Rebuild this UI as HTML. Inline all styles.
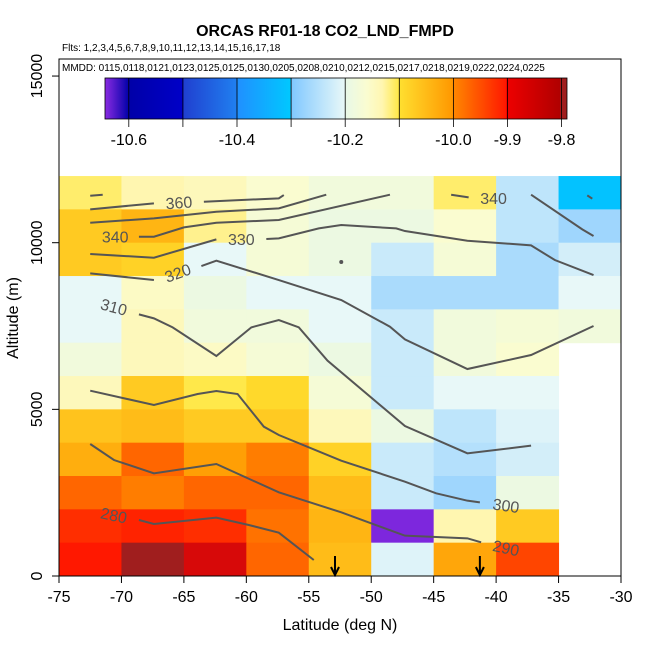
<!DOCTYPE html>
<html><head><meta charset="utf-8"><style>
body{margin:0;background:#fff;}
svg{display:block;font-family:"Liberation Sans",sans-serif;}
</style></head><body>
<svg id="chart" width="650" height="650">
<defs>
<linearGradient id="cbg" x1="0" x2="1" y1="0" y2="0">
<stop offset="0" stop-color="#8a2be2"/><stop offset="0.052" stop-color="#0000a8"/>
<stop offset="0.169" stop-color="#0000c8"/><stop offset="0.17" stop-color="#2040d0"/>
<stop offset="0.286" stop-color="#2080f0"/><stop offset="0.287" stop-color="#2090ff"/>
<stop offset="0.402" stop-color="#00c8ff"/><stop offset="0.403" stop-color="#80c8ff"/>
<stop offset="0.519" stop-color="#e8f8f8"/><stop offset="0.52" stop-color="#e8f8e8"/>
<stop offset="0.567" stop-color="#fafcd0"/><stop offset="0.60" stop-color="#fff6b0"/>
<stop offset="0.635" stop-color="#ffe84a"/><stop offset="0.636" stop-color="#ffe030"/>
<stop offset="0.752" stop-color="#ff9800"/><stop offset="0.753" stop-color="#ff8800"/>
<stop offset="0.868" stop-color="#ff1800"/><stop offset="0.869" stop-color="#ee0000"/>
<stop offset="0.985" stop-color="#b00000"/><stop offset="0.986" stop-color="#a01e1e"/>
<stop offset="1" stop-color="#a01e1e"/>
</linearGradient>
</defs>
<text x="325" y="36" text-anchor="middle" font-size="16" font-weight="bold">ORCAS RF01-18 CO2_LND_FMPD</text>
<text x="62" y="51" font-size="10">Flts: 1,2,3,4,5,6,7,8,9,10,11,12,13,14,15,16,17,18</text>
<g id="cells"></g>
<g id="contours"></g>
<g id="arrows"></g>
<rect x="59" y="59" width="562" height="517" fill="none" stroke="#000" stroke-width="1"/>
<text x="62" y="71" font-size="10">MMDD: 0115,0118,0121,0123,0125,0125,0130,0205,0208,0210,0212,0215,0217,0218,0219,0222,0224,0225</text>
<g id="colorbar">
<rect x="105" y="78" width="462" height="41" fill="url(#cbg)" stroke="#000" stroke-width="0.8"/>
</g>
<g id="axes"></g>
<text x="340" y="630" text-anchor="middle" font-size="16">Latitude (deg N)</text>
<text transform="translate(18,318) rotate(-90)" text-anchor="middle" font-size="16">Altitude (m)</text>
</svg>
<script>
const latEdges=[-75,-70,-65,-60,-55,-50,-45,-40,-35,-30];
const altEdges=[12000,11000,10000,9000,8000,7000,6000,5000,4000,3000,2000,1000,0];
const cellValues=[
[-10.11,-10.13,-10.14,-10.16,-10.18,-10.18,-10.11,-10.24,-10.31],
[-10.07,-10.04,-10.12,-10.17,-10.19,-10.19,-10.16,-10.24,-10.27],
[-10.07,-10.08,-10.2,-10.17,-10.19,-10.23,-10.17,-10.26,-10.22],
[-10.2,-10.15,-10.19,-10.2,-10.2,-10.26,-10.26,-10.26,-10.2],
[-10.2,-10.14,-10.18,-10.18,-10.2,-10.23,-10.18,-10.17,-10.18],
[-10.18,-10.14,-10.15,-10.17,-10.19,-10.23,-10.18,-10.16,null],
[-10.14,-10.07,-10.1,-10.09,-10.17,-10.23,-10.2,-10.2,null],
[-10.06,-10.05,-10.07,-10.07,-10.14,-10.19,-10.24,-10.21,null],
[-10.03,-9.97,-10.01,-9.99,-10.08,-10.23,-10.25,-10.22,null],
[-9.97,-9.99,-9.97,-9.97,-10.05,-10.23,-10.27,-10.19,null],
[-9.92,-9.91,-9.92,-9.98,-10.04,-10.64,-10.13,-10.07,null],
[-9.9,-9.8,-9.87,-9.97,-10.05,-10.21,-10.02,-9.94,null]];
const xTicks=[-75,-70,-65,-60,-55,-50,-45,-40,-35,-30];
const yTicks=[0,5000,10000,15000];
const cbTicks=[-10.6,-10.5,-10.4,-10.3,-10.2,-10.1,-10.0,-9.9,-9.8];
const cbLabels=["-10.6","","-10.4","","-10.2","","-10.0","-9.9","-9.8"];
const arrowLats=[-52.9,-41.3];
const contourLines=[
{level:"360",pts:[[-72.5,11000],[-67.4,11180],null,[-63.4,11230],[-57.4,11330],[-57.0,11430]],lab:[-65.4,11210,-4]},
{level:"",pts:[[-72.5,11410],[-71.5,11440]]},
{level:"",pts:[[-72.5,10600],[-67.4,10730],[-62.4,10930],[-57.4,11030],[-53.6,11440]]},
{level:"340",pts:[[-68.6,10180],[-67.4,10180],[-65.0,10460],[-62.4,10600],[-57.4,10680],[-48.5,11440]],lab:[-70.5,10180,0]},
{level:"330",pts:[[-72.5,9660],[-67.4,9550],[-62.4,10100],null,[-58.4,10110],[-57.4,10130],[-54.2,10430],[-52.4,10530],[-48.0,10430],[-47.3,10350],[-42.3,10060],[-37.2,9920],[-35.3,9480],[-32.2,9030]],lab:[-60.4,10110,0]},
{level:"320",pts:[[-72.5,9080],[-67.4,8880],null,[-63.6,9300],[-62.4,9460],[-57.4,8880],[-52.4,8280],[-48.5,7480],[-47.3,7100],[-42.3,6210],[-37.2,6630],[-32.2,7500]],lab:[-65.5,9100,-20]},
{level:"310",pts:[[-68.6,7850],[-67.4,7730],[-65.9,7460],[-62.4,6600],[-59.6,7460],[-57.4,7680],[-55.8,7460],[-53.5,6460],[-47.3,4500],[-42.3,3680],[-37.2,3910]],lab:[-70.6,8080,15]},
{level:"300",pts:[[-72.5,5560],[-67.4,5130],[-63.9,5460],[-62.4,5550],[-60.7,5460],[-58.6,4480],[-57.4,4230],[-52.4,3460],[-47.3,2830],[-44.8,2480],[-42.3,2260],[-41.3,2210]],lab:[-39.2,2120,8]},
{level:"290",pts:[[-72.5,3960],[-70.6,3480],[-67.4,3080],[-62.4,3360],[-57.4,2510],[-52.4,1910],[-47.3,1210],[-42.3,1130],[-41.2,1010]],lab:[-39.2,850,12]},
{level:"280",pts:[[-68.6,1680],[-67.4,1560],[-62.4,1750],[-59.8,1530],[-57.4,1300],[-54.6,480]],lab:[-70.6,1830,12]},
{level:"340",pts:[[-43.6,11440],[-42.2,11360]],lab:[-40.2,11340,0]},
{level:"",pts:[[-37.2,11440],[-33.1,10400],[-32.2,10200]]},
{level:"",pts:[[-32.7,11420],[-32.3,11320]]}];
const X0=59,X1=621,Y0=576,YS=0.03333;
function sx(lat){return X0+(lat+75)*(X1-X0)/45;}
function sy(alt){return Y0-alt*YS;}
const cbMin=-10.644,cbMax=-9.79,cbX0=105,cbX1=567;
function cbx(v){return cbX0+(v-cbMin)*(cbX1-cbX0)/(cbMax-cbMin);}
const stops=[[-10.644,"#8a2be2"],[-10.6,"#0000a8"],[-10.5,"#0000c8"],[-10.4999,"#2040d0"],[-10.4,"#2080f0"],[-10.3999,"#2090ff"],[-10.3,"#00c8ff"],[-10.2999,"#80c8ff"],[-10.2,"#e8f8f8"],[-10.1999,"#e8f8e8"],[-10.16,"#fafcd0"],[-10.13,"#fff6b0"],[-10.1,"#ffe84a"],[-10.0999,"#ffe030"],[-10.0,"#ff9800"],[-9.9999,"#ff8800"],[-9.9,"#ff1800"],[-9.8999,"#ee0000"],[-9.8,"#a01e1e"],[-9.7,"#a01e1e"]];
function hx(c){return [1,3,5].map(i=>parseInt(c.substr(i,2),16));}
function cmap(v){for(let i=0;i<stops.length-1;i++){const a=stops[i],b=stops[i+1];if(v<=b[0]){const t=Math.max(0,Math.min(1,(v-a[0])/(b[0]-a[0])));const ca=hx(a[1]),cb=hx(b[1]);return "rgb("+ca.map((c,j)=>Math.round(c+(cb[j]-c)*t)).join(",")+")";}}return stops[stops.length-1][1];}
const NS="http://www.w3.org/2000/svg";
function mk(tag,attrs,parent){const e=document.createElementNS(NS,tag);for(const k in attrs)e.setAttribute(k,attrs[k]);parent.appendChild(e);return e;}
const gc=document.getElementById('cells');
cellValues.forEach((row,r)=>row.forEach((v,c)=>{if(v===null)return;
const x=sx(latEdges[c]),y=sy(altEdges[r]);
const e=mk('rect',{x:x,y:y,width:sx(latEdges[c+1])-x+0.5,height:sy(altEdges[r+1])-y+0.5,fill:cmap(v)},gc);

}));
const gl=document.getElementById('contours');
contourLines.forEach(cl=>{let seg=[];const segs=[];cl.pts.forEach(p=>{if(p===null){segs.push(seg);seg=[];}else seg.push(p);});segs.push(seg);
segs.forEach(s=>{const e=mk('polyline',{points:s.map(p=>sx(p[0])+","+sy(p[1])).join(" "),fill:"none",stroke:"#555","stroke-width":2},gl);

});
if(cl.lab){const t=mk('text',{x:sx(cl.lab[0]),y:sy(cl.lab[1])+6,"text-anchor":"middle","font-size":16,fill:"#555",transform:"rotate("+cl.lab[2]+" "+sx(cl.lab[0])+" "+sy(cl.lab[1])+")"},gl);t.textContent=cl.level;

}});
const d=mk('circle',{cx:sx(-52.4),cy:sy(9420),r:2,fill:"#555"},gl);


const ga=document.getElementById('arrows');
arrowLats.forEach(l=>{const x=sx(l);const e=mk('path',{d:"M"+x+" 556 V575 M"+(x-4)+" 567 L"+x+" 575 L"+(x+4)+" 567",stroke:"#000","stroke-width":2,fill:"none"},ga);

});
const gx=document.getElementById('axes');
xTicks.forEach(v=>{const x=sx(v);mk('line',{x1:x,x2:x,y1:576,y2:583,stroke:"#000"},gx);
const t=mk('text',{x:x,y:602,"text-anchor":"middle","font-size":16},gx);t.textContent=v;

});
yTicks.forEach(v=>{const y=sy(v);mk('line',{x1:52,x2:59,y1:y,y2:y,stroke:"#000"},gx);
const t=mk('text',{x:42,y:y,"text-anchor":"middle","font-size":16,transform:"rotate(-90 42 "+y+")"},gx);t.textContent=v;

});
const gcb=document.getElementById('colorbar');
cbTicks.forEach((v,i)=>{const x=cbx(v);mk('line',{x1:x,x2:x,y1:78,y2:127,stroke:"#000","stroke-width":0.8},gcb);
if(cbLabels[i]){const t=mk('text',{x:x,y:145,"text-anchor":"middle","font-size":16},gcb);t.textContent=cbLabels[i];

}});
</script>
</body></html>
